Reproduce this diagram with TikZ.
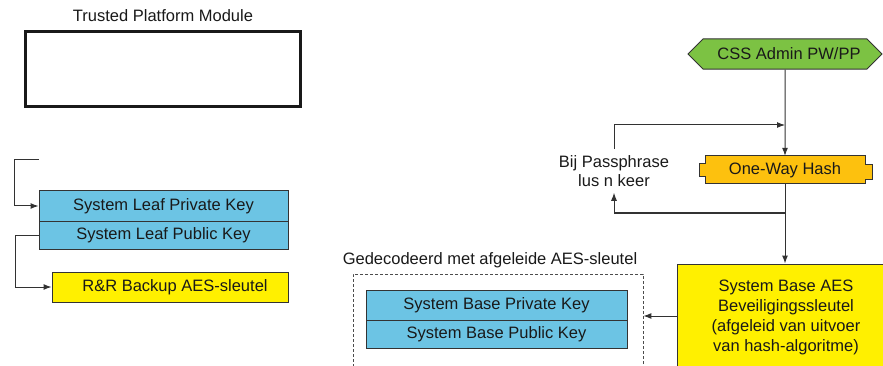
\documentclass[tikz,border=0pt]{standalone}
\usepackage{fontspec}
\setmainfont{Liberation Sans}
\usetikzlibrary{arrows.meta,shapes.misc}
\definecolor{keyblue}{RGB}{108,196,228}
\definecolor{keyyellow}{RGB}{255,240,0}
\definecolor{hashorange}{RGB}{253,193,14}
\definecolor{cssgreen}{RGB}{124,194,67}
\definecolor{linegray}{RGB}{50,50,50}
\begin{document}
\begin{tikzpicture}[x=1pt,y=-1pt,
  every node/.style={font=\fontsize{16.5}{20}\selectfont, text=black!90},
  conn/.style={draw=linegray, line width=1pt, -{Latex[length=8pt,width=6pt]}},
  keybox/.style={draw=black!80, line width=1pt, fill=keyblue, minimum width=249pt, inner sep=0pt},
  yelbox/.style={draw=black!80, line width=1pt, fill=keyyellow, inner sep=0pt},
  lbl/.style={inner sep=0pt}
]
\useasboundingbox (0,0) rectangle (883,366);

% Trusted Platform Module
\node[lbl] (tpmtitle) at (163,16) {Trusted Platform Module};
\node[draw=black!90, line width=3pt, minimum width=275pt, minimum height=75pt, inner sep=0pt] (tpm) at (162.5,69.5) {};

% Leaf keys
\node[keybox, minimum height=30pt] (leafpriv) at (163.5,206) {System Leaf Private Key};
\node[keybox, minimum height=28pt] (leafpub) at (163.5,235) {System Leaf Public Key};
\node[yelbox, minimum width=236pt, minimum height=30pt] (rr) at (170,287) {\hspace*{10pt}R\&R Backup AES-sleutel};

\coordinate (leafin) at (39,160);
\draw[conn] (leafin) -- (14,160) |- (leafpriv.west);
\draw[conn] (leafpub.west) -- ++(-23,0) |- (rr.west);

% CSS admin
\node[chamfered rectangle, chamfered rectangle xsep=7pt, chamfered rectangle ysep=9pt,
      draw=black!80, line width=1pt, fill=cssgreen, minimum width=194pt, minimum height=28pt, inner sep=0pt]
      (css) at (785,54) {\hspace*{8pt}CSS Admin PW/PP};

% One-way hash
\fill[hashorange, draw=black!80, line width=1pt]
  (705,156) -- (865,156) -- (865,165) -- (872,165) -- (872,180) -- (865,180) -- (865,184)
  -- (705,184) -- (705,177) -- (699,177) -- (699,164) -- (705,164) -- cycle;
\node[lbl, minimum width=160pt, minimum height=28pt] (hash) at (785,170) {One-Way Hash};

\draw[conn] (css) -- (hash);

% Loop
\node[align=center, inner sep=6pt, font=\fontsize{16.5}{19}\selectfont] (loop) at (614,171) {Bij Passphrase\\lus n keer};
\coordinate (tapTop) at (785,125);
\coordinate (tapBot) at (785,213);
\draw[conn] (loop.north) |- (tapTop);
\draw[conn] (tapBot) -| (loop.south);

% System base AES
\node[yelbox, minimum width=218pt, minimum height=106pt, align=center,
      font=\fontsize{16.5}{20}\selectfont] (sysaes) at (786,317)
  {System Base AES\\Beveiligingssleutel\\(afgeleid van uitvoer\\van hash-algoritme)};
\draw[conn] (hash) -- (hash |- sysaes.north);

% Decoded region
\node[draw=black!70, line width=0.8pt, dash pattern=on 3pt off 2pt, minimum width=290pt, minimum height=100pt, inner sep=0pt]
  (dec) at (498,324) {};
\node[lbl] (dectitle) at (490,260) {Gedecodeerd met afgeleide AES-sleutel};
\node[keybox, minimum width=261pt, minimum height=30pt] (basepriv) at (496.5,305) {System Base Private Key};
\node[keybox, minimum width=261pt, minimum height=28pt] (basepub) at (496.5,334) {System Base Public Key};

\draw[conn] (sysaes.west |- 0,316) -- (dec.east |- 0,316);
\end{tikzpicture}
\end{document}
